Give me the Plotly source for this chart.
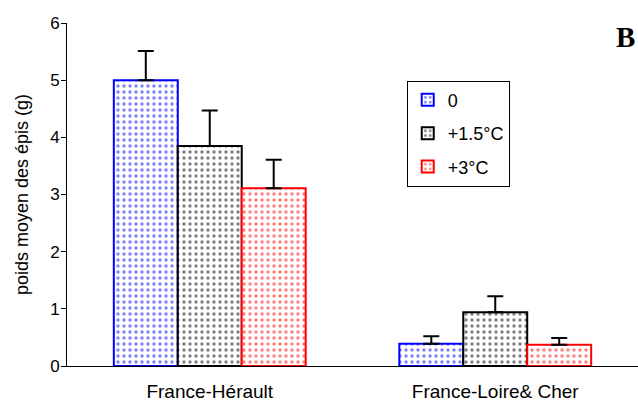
import plotly.graph_objects as go

categories = ["France-Hérault", "France-Loire& Cher"]
series_names = ["0", "+1.5°C", "+3°C"]
values = {
    "0": [5.0, 0.39],
    "+1.5°C": [3.85, 0.94],
    "+3°C": [3.11, 0.37],
}
errors = {
    "0": [0.51, 0.13],
    "+1.5°C": [0.62, 0.28],
    "+3°C": [0.50, 0.12],
}
colors = {"0": "#0000FF", "+1.5°C": "#000000", "+3°C": "#FF0000"}

fig = go.Figure()
for name in series_names:
    c = colors[name]
    fig.add_trace(go.Bar(
        name=name, x=categories, y=values[name], legendgroup=name,
        marker=dict(color="white", line=dict(color=c, width=2),
                    pattern=dict(shape=".", fgcolor=c, bgcolor="white", size=6, solidity=0.25)),
        error_y=dict(type="data", array=errors[name], symmetric=False, arrayminus=[0, 0],
                     color="black", thickness=2, width=8),
    ))

FONT = "Liberation Sans, Arial, sans-serif"
fig.update_layout(
    width=638, height=408,
    margin=dict(l=67, r=0, t=23, b=42),
    paper_bgcolor="white", plot_bgcolor="white",
    barmode="group", bargap=0.328, bargroupgap=0,
    font=dict(family=FONT, color="black"),
    showlegend=True,
    legend=dict(x=0.595, y=0.832, xanchor="left", yanchor="top",
                bgcolor="white", bordercolor="black", borderwidth=1,
                font=dict(size=18), tracegroupgap=7, itemwidth=30),
    xaxis=dict(showline=True, linecolor="black", linewidth=1, ticks="",
               tickfont=dict(size=19), showgrid=False, ticklabelstandoff=8),
    yaxis=dict(range=[0, 6], dtick=1, showline=True, linecolor="black", linewidth=1,
               ticks="outside", ticklen=5, tickcolor="black", tickfont=dict(size=17),
               showgrid=False, zeroline=False, ticklabelstandoff=-2,
               title=dict(text="poids moyen des épis (g)", font=dict(size=18), standoff=16)),
)
fig.add_annotation(text="<b>B</b>", xref="paper", yref="paper", x=0.998, y=0.96,
                   xanchor="right", yanchor="middle", showarrow=False,
                   font=dict(family="Liberation Serif, Times New Roman, serif", size=29, color="black"))

fig.write_html("out.html", config={"displayModeBar": False},
               post_script="document.body.style.margin='0';")
